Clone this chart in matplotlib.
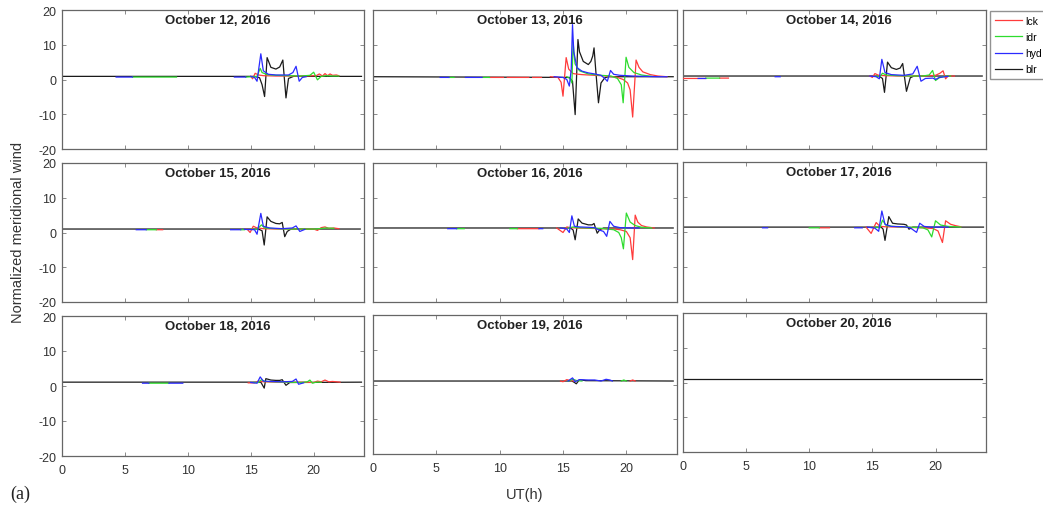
import matplotlib

matplotlib.use("Agg")
import matplotlib.pyplot as plt  # noqa: E402
import numpy as np  # noqa: E402

nan = np.nan

# UT (h) and normalized meridional wind per station, one dict per day.
# nan breaks a series where the station has no data.
oct12 = {
    "lck": ([15.0, 15.15, 15.35, 15.6, 16.0, 17.0, 18.0, 19.0, 20.2, 20.45, 20.7, 20.9, 21.1, 21.3, 21.5, 21.8, 22.0],
            [0.9, 0.2, 1.8, 1.3, 1.1, 1.0, 1.0, 1.0, 1.1, 1.6, 1.0, 1.7, 1.1, 1.6, 1.2, 1.3, 1.1]),
    "idr": ([5.6, 9.1, nan, 14.6, 15.1, 15.5, 15.75, 15.9, 16.3, 17.0, 18.0, 19.0, 19.7, 20.0, 20.3, 20.6, 21.0, 21.5, 22.0],
            [0.7, 0.7, nan, 0.7, 0.8, 0.9, 3.2, 2.0, 1.4, 1.2, 1.1, 1.0, 1.2, 2.1, -0.1, 0.9, 1.1, 1.0, 1.0]),
    "hyd": ([4.3, 5.6, nan, 13.7, 14.6, nan, 15.0, 15.3, 15.5, 15.8, 16.0, 16.4, 17.0, 18.0, 18.35, 18.6, 18.85, 19.1, 19.4],
            [0.7, 0.7, nan, 0.7, 0.7, nan, 0.9, 0.6, -0.5, 7.4, 2.5, 1.5, 1.3, 1.3, 2.0, 3.8, -0.5, 0.6, 0.8]),
    "blr": ([0.0, 15.3, 15.7, 15.9, 16.1, 16.3, 16.6, 17.0, 17.3, 17.55, 17.8, 18.0, 18.4, 23.8],
            [0.9, 0.9, 0.5, -1.5, -4.9, 6.3, 3.5, 3.0, 3.6, 5.6, -5.3, 0.3, 0.9, 0.9]),
}

oct13 = {
    "lck": ([9.2, 10.3, nan, 10.6, 12.3, nan, 12.6, 13.3, nan, 14.0, 14.6, 14.85, 15.0, 15.25, 15.45, 15.8, 16.0, 16.5,
             17.5, 18.5, 19.3, 19.75, 20.1, 20.3, 20.5, 20.77, 21.0, 21.3, 21.9, 22.5, 23.2],
            [0.6, 0.6, nan, 0.6, 0.6, nan, 0.6, 0.6, nan, 0.8, 0.6, -0.8, -4.8, 6.3, 3.0, 1.7, 1.6, 1.4,
             1.2, 1.0, 0.6, 0.0, -1.0, -3.0, -10.8, 5.6, 3.5, 2.2, 1.4, 1.0, 0.8]),
    "idr": ([6.0, 6.4, nan, 8.7, 9.2, nan, 15.3, 15.55, 15.7, 15.8, 15.95, 16.3, 17.0, 18.0, 18.8, 19.3, 19.6, 19.75,
             19.98, 20.2, 20.6, 21.2, 22.0],
            [0.6, 0.6, nan, 0.6, 0.6, nan, 0.8, 0.3, -1.0, 10.6, 4.5, 2.5, 1.6, 1.2, 1.0, 0.3, -1.5, -6.7,
             6.4, 3.5, 2.0, 1.3, 0.9]),
    "hyd": ([5.3, 6.0, nan, 7.3, 8.6, nan, 14.3, 15.0, 15.3, 15.5, 15.65, 15.75, 15.85, 16.1, 16.5, 17.0, 17.5, 18.0,
             18.3, 18.5, 18.75, 19.0, 19.5, 20.5, 21.5, 22.5, 23.2],
            [0.6, 0.6, nan, 0.6, 0.6, nan, 0.8, 0.6, 0.0, -1.9, 3.0, 15.8, 8.0, 3.4, 2.4, 1.9, 1.6, 1.2,
             0.3, -0.5, 2.6, 1.5, 1.2, 1.0, 0.9, 0.8, 0.8]),
    "blr": ([0.0, 15.5, 15.75, 15.96, 16.18, 16.3, 16.6, 17.0, 17.2, 17.35, 17.45, 17.6, 17.8, 18.0, 18.3, 18.6, 23.7],
            [0.8, 0.6, -0.5, -10.1, 11.5, 8.0, 5.2, 4.3, 5.2, 6.8, 9.1, 2.0, -6.7, -1.0, 0.5, 0.8, 0.8]),
}

oct14 = {
    "lck": ([0.0, 1.8, nan, 2.9, 3.6, nan, 14.8, 15.0, 15.2, 15.5, 16.0, 17.0, 18.0, 19.0, 20.0, 20.35, 20.6, 20.8,
             21.0, 21.5],
            [0.3, 0.3, nan, 0.4, 0.4, nan, 1.0, 0.6, 1.7, 1.2, 1.1, 1.0, 1.0, 1.0, 1.2, 1.8, 2.5, 0.2,
             1.0, 1.0]),
    "idr": ([1.8, 2.9, nan, 15.3, 15.6, 15.8, 16.1, 17.0, 18.0, 19.0, 19.5, 19.77, 20.0, 20.3, 20.7, 21.2],
            [0.4, 0.4, nan, 1.0, 0.8, 1.8, 1.3, 1.1, 1.0, 1.0, 1.3, 2.6, -0.3, 0.5, 0.9, 1.0]),
    "hyd": ([1.2, 1.8, nan, 7.3, 7.7, nan, 14.8, 15.3, 15.55, 15.75, 16.0, 16.5, 17.5, 18.2, 18.55, 18.85, 19.2,
             19.8, 20.0, 20.3, 21.0],
            [0.3, 0.3, nan, 0.8, 0.8, nan, 1.0, 0.8, 0.2, 5.8, 2.0, 1.4, 1.2, 1.6, 3.8, -0.5, 0.3,
             0.4, 0.0, 0.6, 0.9]),
    "blr": ([0.0, 15.5, 15.8, 15.96, 16.2, 16.5, 16.9, 17.2, 17.4, 17.7, 18.0, 18.3, 23.7],
            [1.0, 1.0, 0.3, -3.7, 5.0, 3.4, 2.9, 3.3, 4.6, -3.4, 0.5, 1.0, 1.0]),
}

oct15 = {
    "lck": ([7.5, 8.0, nan, 14.7, 14.95, 15.2, 15.5, 16.0, 17.0, 18.0, 19.0, 20.0, 20.3, 20.6, 20.9, 21.2, 21.6, 22.0],
            [0.8, 0.8, nan, 1.0, 0.0, 1.8, 1.3, 1.1, 1.0, 1.0, 1.0, 1.0, 0.6, 1.4, 1.6, 1.2, 1.3, 1.1]),
    "idr": ([6.7, 7.5, nan, 14.2, 14.5, nan, 15.0, 15.5, 15.85, 16.1, 17.0, 18.0, 19.0, 20.2, 21.0, 21.6],
            [0.8, 0.8, nan, 0.8, 0.8, nan, 0.9, 0.9, 2.2, 1.3, 1.1, 1.0, 1.0, 1.0, 1.3, 1.2]),
    "hyd": ([5.9, 6.7, nan, 13.4, 14.2, nan, 14.5, 15.3, 15.5, 15.8, 16.0, 16.5, 17.5, 18.3, 18.6, 18.9, 19.3],
            [0.8, 0.8, nan, 0.8, 0.8, nan, 0.9, 0.8, -0.5, 5.5, 1.8, 1.3, 1.1, 1.3, 1.9, 0.3, 0.9]),
    "blr": ([0.0, 15.6, 15.9, 16.07, 16.3, 16.6, 17.0, 17.3, 17.5, 17.7, 17.9, 18.2, 23.7],
            [1.0, 1.0, 0.5, -3.6, 4.5, 3.2, 2.6, 2.5, 2.9, -1.2, 0.3, 1.0, 1.0]),
}

oct16 = {
    "lck": ([11.4, 13.1, nan, 14.5, 15.0, 15.3, 15.6, 16.0, 17.0, 18.0, 19.0, 19.5, 20.0, 20.3, 20.5, 20.7, 20.9,
             21.2, 21.6, 22.2],
            [1.1, 1.1, nan, 1.3, 0.0, 1.6, 1.4, 1.3, 1.2, 1.1, 1.0, 0.8, 0.3, -1.5, -7.8, 5.0, 3.0,
             2.0, 1.6, 1.3]),
    "idr": ([6.6, 7.2, nan, 10.8, 11.4, nan, 15.4, 15.8, 16.1, 17.0, 18.0, 19.0, 19.4, 19.6, 19.77, 20.0, 20.3,
             20.7, 21.2, 22.0],
            [1.1, 1.1, nan, 1.1, 1.1, nan, 1.3, 1.6, 1.4, 1.3, 1.2, 0.8, 0.0, -1.5, -4.7, 5.6, 3.0,
             2.0, 1.5, 1.3]),
    "hyd": ([5.9, 6.6, nan, 13.1, 13.4, nan, 14.8, 15.3, 15.5, 15.7, 15.9, 16.3, 17.0, 17.5, 17.8, 18.2, 18.45,
             18.7, 19.0, 19.5, 20.5, 21.0],
            [1.1, 1.1, nan, 1.1, 1.1, nan, 1.3, 1.0, 0.0, 4.8, 1.8, 1.6, 1.5, 1.4, 0.8, 0.3, -1.1,
             3.2, 1.8, 1.4, 1.3, 1.3]),
    "blr": ([0.0, 15.6, 15.8, 15.96, 16.2, 16.5, 17.0, 17.3, 17.45, 17.7, 17.9, 18.2, 23.7],
            [1.3, 1.3, 0.7, -2.1, 3.9, 2.7, 2.2, 2.2, 2.6, -0.2, 0.8, 1.3, 1.3]),
}

oct17 = {
    "lck": ([10.8, 11.6, nan, 14.5, 14.9, 15.3, 15.6, 16.0, 17.0, 18.0, 19.0, 19.8, 20.2, 20.55, 20.8, 21.2, 21.6,
             22.0],
            [1.2, 1.2, nan, 1.4, -0.4, 2.7, 1.6, 1.5, 1.4, 1.3, 1.2, 1.0, 0.3, -3.0, 3.2, 2.2, 1.8,
             1.5]),
    "idr": ([10.0, 10.8, nan, 15.2, 15.6, 15.8, 16.1, 17.0, 18.0, 19.0, 19.4, 19.7, 20.0, 20.4, 21.0, 21.6, 22.0],
            [1.2, 1.2, nan, 1.4, 1.2, 3.4, 1.8, 1.5, 1.4, 1.2, 0.6, -1.4, 3.2, 2.0, 1.6, 1.5, 1.4]),
    "hyd": ([6.3, 6.7, nan, 13.6, 14.2, nan, 14.6, 15.2, 15.5, 15.75, 16.0, 16.5, 17.5, 18.0, 18.5, 18.75, 19.1,
             19.6, 20.5, 21.0],
            [1.2, 1.2, nan, 1.2, 1.2, nan, 1.4, 1.1, 0.2, 6.0, 2.2, 1.6, 1.5, 1.2, -0.1, 2.5, 1.6,
             1.4, 1.4, 1.4]),
    "blr": ([0.0, 15.7, 15.85, 16.0, 16.3, 16.6, 17.0, 17.5, 17.7, 17.9, 18.2, 23.8],
            [1.4, 1.4, 0.8, -2.4, 4.4, 2.5, 2.3, 2.2, 2.0, 0.8, 1.4, 1.4]),
}

oct18 = {
    "lck": ([14.8, 15.3, 15.6, 16.0, 17.0, 18.0, 19.0, 20.0, 20.3, 20.6, 20.9, 21.2, 21.5, 21.8, 22.1],
            [0.9, 0.9, 1.4, 1.2, 1.1, 1.1, 1.1, 1.0, 1.4, 1.2, 1.7, 1.2, 1.3, 1.2, 1.1]),
    "idr": ([6.9, 8.5, nan, 15.2, 15.6, 15.85, 16.1, 17.0, 18.0, 19.0, 19.5, 19.7, 19.9, 20.2, 20.6],
            [0.8, 0.8, nan, 1.0, 1.0, 1.8, 1.3, 1.2, 1.1, 1.0, 1.2, 1.7, 0.8, 1.1, 1.1]),
    "hyd": ([6.4, 6.9, nan, 8.5, 9.6, nan, 15.0, 15.5, 15.75, 16.0, 16.5, 17.5, 18.3, 18.6, 18.8, 19.2],
            [0.8, 0.8, nan, 0.8, 0.8, nan, 1.0, 0.8, 2.6, 1.4, 1.3, 1.2, 1.3, 2.0, 0.5, 0.9]),
    "blr": ([0.0, 15.8, 16.07, 16.2, 16.6, 17.0, 17.3, 17.5, 17.8, 18.1, 23.8],
            [1.1, 1.1, -0.6, 2.1, 1.7, 1.6, 1.6, 1.8, 0.2, 1.0, 1.1]),
}

oct19 = {
    "lck": ([14.8, 15.0, 15.3, 15.6, 16.0, nan, 20.3, 20.5, 20.7],
            [1.0, 0.8, 1.4, 1.1, 1.0, nan, 1.0, 1.3, 1.0]),
    "idr": ([15.4, 15.8, 16.1, 16.5, nan, 19.6, 19.8, 20.0],
            [1.0, 1.5, 1.1, 1.0, nan, 1.0, 1.3, 1.0]),
    "hyd": ([15.4, 15.75, 15.95, 16.3, 17.0, 17.5, 18.0, 18.4, 18.7, 18.9],
            [1.0, 1.9, 0.8, 1.4, 1.3, 1.3, 1.0, 1.5, 1.3, 1.0]),
    "blr": ([0.0, 15.7, 15.9, 16.05, 16.3, 16.8, 23.7],
            [1.0, 1.0, 0.6, 0.2, 1.4, 1.1, 1.0]),
}

oct20 = {
    "lck": ([], []),
    "idr": ([], []),
    "hyd": ([], []),
    "blr": ([0.0, 23.7], [1.0, 1.0]),
}

days = [oct12, oct13, oct14, oct15, oct16, oct17, oct18, oct19, oct20]
titles = ["October 12, 2016", "October 13, 2016", "October 14, 2016",
          "October 15, 2016", "October 16, 2016", "October 17, 2016",
          "October 18, 2016", "October 19, 2016", "October 20, 2016"]
stations = ["lck", "idr", "hyd", "blr"]
colors = {"lck": "#ff3b3b", "idr": "#2edc2e", "hyd": "#2b2bff", "blr": "#1a1a1a"}
yticks = [-20, -10, 0, 10, 20]
xticks = [0, 5, 10, 15, 20]

W, H = 1043, 510
# panel boxes in pixels: left, top, right, bottom
boxes = [
    (62, 11, 364, 150), (373, 11, 677, 150), (683, 11, 986, 150),
    (62, 164, 364, 303), (373, 164, 677, 303), (683, 163, 986, 303),
    (62, 317, 364, 457), (373, 316, 677, 455), (683, 314, 986, 453),
]

plt.rcParams.update({
    "font.family": ["Liberation Sans", "DejaVu Sans"],
    "axes.unicode_minus": False,
})
fig = plt.figure(figsize=(W / 100, H / 100), dpi=100)

lines = {}
for k, (day, title, (l, t, r, b)) in enumerate(zip(days, titles, boxes)):
    ax = fig.add_axes([l / W, 1 - b / H, (r - l) / W, (b - t) / H])
    # baseline station first so the short coloured stretches stay visible
    for name in ["blr", "lck", "idr", "hyd"]:
        tt, vv = day[name]
        ln, = ax.plot(np.array(tt, float), np.array(vv, float), color=colors[name],
                      lw=0.9, label=name, zorder=2 if name == "blr" else 3)
        lines.setdefault(name, ln)
    ax.set_xlim(0, 24)
    ax.set_ylim(-20, 20)
    ax.set_xticks(xticks)
    ax.set_yticks(yticks)
    ax.tick_params(direction="in", top=True, right=True, length=3, width=0.6,
                   color="#777777", labelsize=9, labelcolor="#333333", pad=4)
    if k % 3 != 0:
        ax.set_yticklabels([])
    if k < 6:
        ax.set_xticklabels([])
    else:
        ax.tick_params(axis="x", pad=6)
    for s in ax.spines.values():
        s.set_color("#666666")
        s.set_linewidth(0.9)
    ax.text(0.515, 0.93, title, transform=ax.transAxes, ha="center", va="center",
            fontsize=9.5, fontweight="bold", color="#222222")

fig.legend([lines[s] for s in stations], stations, loc="upper left",
           bbox_to_anchor=(990 / W, 1 - 12 / H), fontsize=7.5, frameon=True,
           fancybox=False, edgecolor="#777777", handlelength=2.6,
           handletextpad=0.35, labelspacing=0.6, borderpad=0.45, borderaxespad=0)

fig.text(18 / W, 1 - 232 / H, "Normalized meridional wind", rotation=90,
         ha="center", va="center", fontsize=10.5, color="#333333")
fig.text(525 / W, 1 - 495 / H, "UT(h)", ha="center", va="center",
         fontsize=10.5, color="#333333")
fig.text(10 / W, 1 - 494 / H, "(a)", ha="left", va="center", fontsize=13,
         family=["Liberation Serif", "DejaVu Serif"], color="#222222")

fig.savefig("out.png", dpi=100)
